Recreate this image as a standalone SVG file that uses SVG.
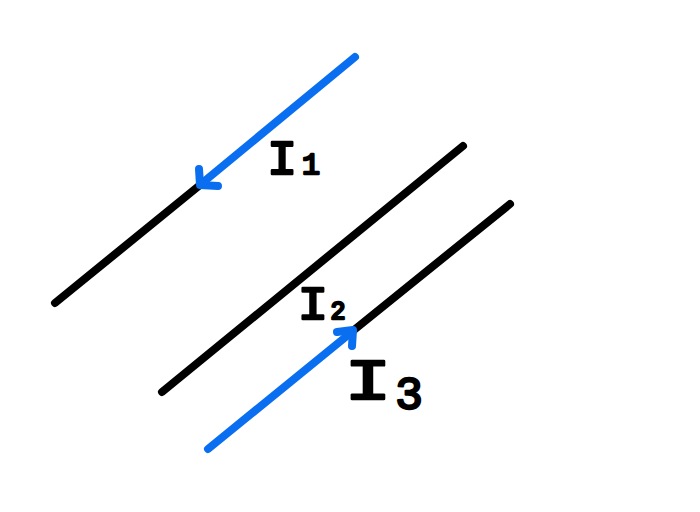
<svg xmlns="http://www.w3.org/2000/svg" width="700" height="512" viewBox="0 0 700 512">
<style>
.w{stroke:#000;stroke-width:8;stroke-linecap:round;fill:none}
.c{stroke:#0a6ef0;stroke-width:8;stroke-linecap:round;stroke-linejoin:round;fill:none}
.l{font-family:"Liberation Mono","DejaVu Sans Mono",monospace;font-weight:normal;fill:#000;stroke:#000;stroke-width:2.4;stroke-linejoin:round}
</style>
<rect width="700" height="512" fill="#fff"/>
<g id="connectors">
<g id="wire1">
<line class="w" x1="200" y1="185" x2="55" y2="303"/>
<line class="c" x1="355" y1="57" x2="201" y2="184"/>
<polyline class="c" points="199,169 200,185 218,186"/>
</g>
<g id="wire2">
<line class="w" x1="463" y1="146" x2="162" y2="392"/>
</g>
<g id="wire3">
<line class="w" x1="510" y1="204" x2="354" y2="330"/>
<line class="c" x1="208" y1="449" x2="353" y2="331"/>
<polyline class="c" points="337,332 353,330 352,346"/>
</g>
</g>
<g id="label-I1">
<text class="l" transform="translate(282,174) scale(1.05,1)" font-size="48" text-anchor="middle">I</text>
<text class="l" x="311" y="174" font-size="30" text-anchor="middle">1</text>
</g>
<g id="label-I2">
<text class="l" transform="translate(313,319) scale(1.1,1)" font-size="46" text-anchor="middle">I</text>
<text class="l" x="338" y="319" font-size="25" text-anchor="middle">2</text>
</g>
<g id="label-I3">
<text class="l" transform="translate(368,399) scale(1.35,1)" font-size="58" text-anchor="middle">I</text>
<text class="l" x="409" y="409" font-size="46" text-anchor="middle">3</text>
</g>
</svg>
